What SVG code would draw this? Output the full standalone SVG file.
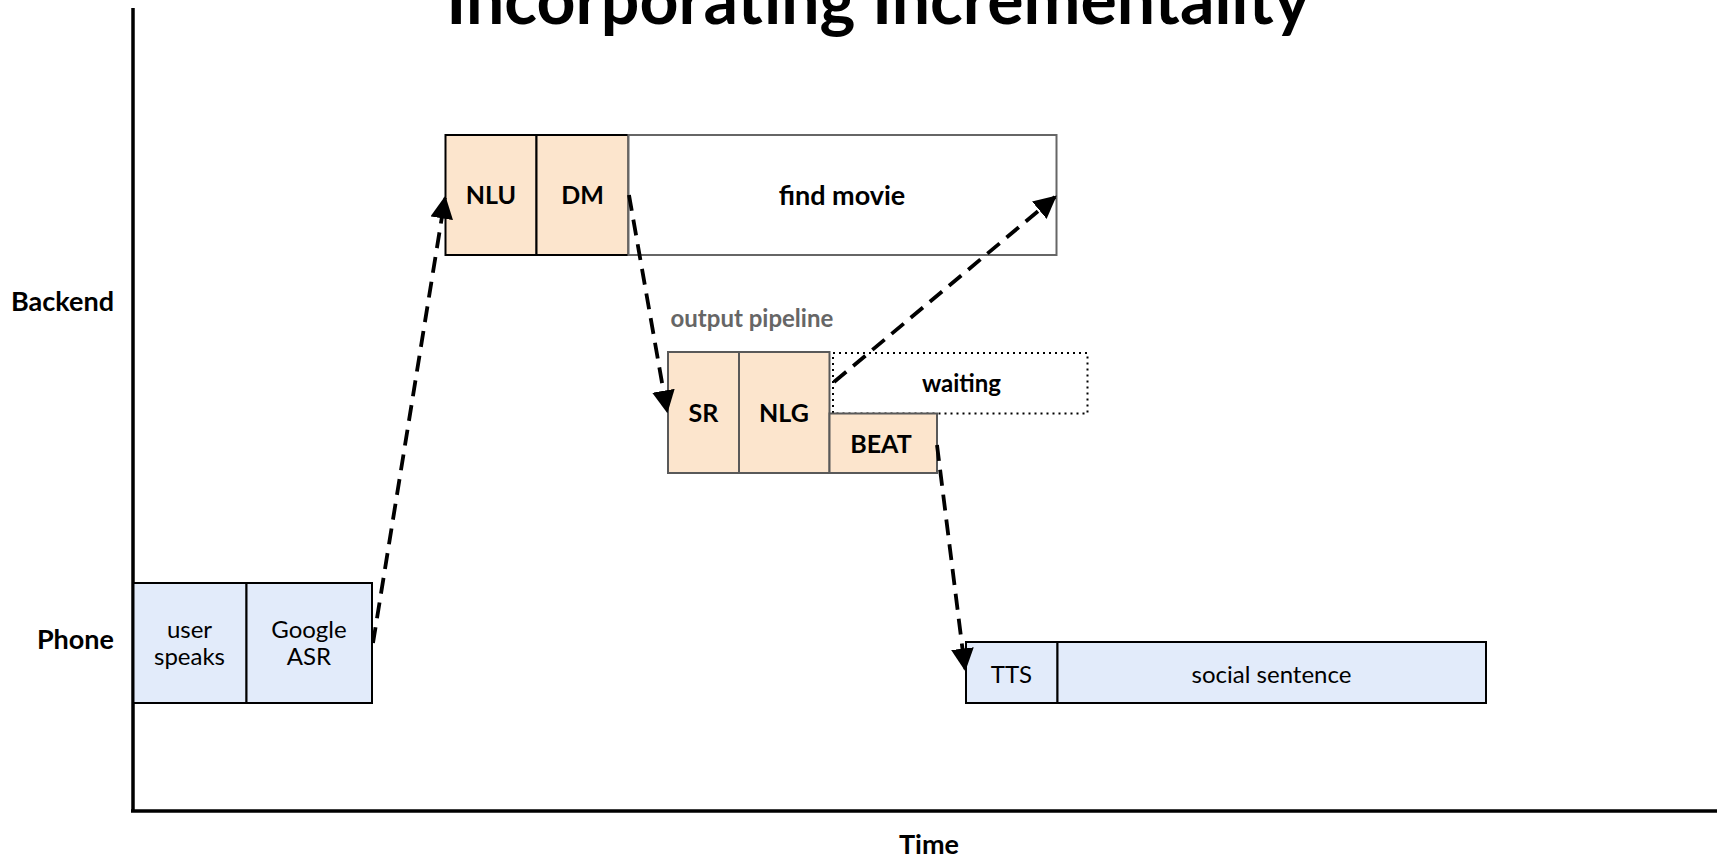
<svg xmlns="http://www.w3.org/2000/svg" width="1717" height="859" viewBox="0 0 1717 859">
<style>
text{font-family:Lato,"Liberation Sans",sans-serif;fill:#000}
.b{font-weight:bold;font-size:25px;text-anchor:middle}
.r{font-size:24px;text-anchor:middle}
.side{font-weight:bold;font-size:27px;text-anchor:end}
.or{fill:#fce5cd;stroke:#000;stroke-width:2}
.or2{fill:#fce5cd;stroke:#595959;stroke-width:2}
.bl{fill:#e2ebfa;stroke:#000;stroke-width:2}
.con{fill:none;stroke:#000;stroke-width:3.8;stroke-dasharray:16 9}
</style>
<defs>
<marker id="ah" viewBox="0 0 10 10" refX="9" refY="5" markerWidth="6" markerHeight="6" orient="auto" markerUnits="strokeWidth">
<path d="M0,0 L10,5 L0,10 z" fill="#000"/>
</marker>
</defs>
<rect width="1717" height="859" fill="#fff"/>
<text x="878" y="24" style="font-weight:bold;font-size:68px;text-anchor:middle">Incorporating Incrementality</text>
<g id="axes">
<line x1="133" y1="8" x2="133" y2="811" stroke="#000" stroke-width="3.5"/>
<line x1="131" y1="811" x2="1717" y2="811" stroke="#000" stroke-width="3.5"/>
<text class="side" x="114" y="311">Backend</text>
<text class="side" x="114" y="649">Phone</text>
<text x="929" y="854" style="font-weight:bold;font-size:27px;text-anchor:middle">Time</text>
</g>
<g id="user-speaks">
<rect class="bl" x="133.5" y="583" width="113" height="120"/>
<text class="r" x="189.5" y="638">user</text>
<text class="r" x="189.5" y="665">speaks</text>
</g>
<g id="google-asr">
<rect class="bl" x="246.5" y="583" width="125.5" height="120"/>
<text class="r" x="309" y="638">Google</text>
<text class="r" x="309" y="665">ASR</text>
</g>
<g id="nlu">
<rect class="or" x="445.5" y="135" width="91" height="120"/>
<text class="b" x="491" y="204">NLU</text>
</g>
<g id="dm">
<rect class="or" x="536.5" y="135" width="92" height="120"/>
<text class="b" x="582.5" y="204">DM</text>
</g>
<g id="find-movie">
<rect x="628.5" y="135" width="428" height="120" fill="#fff" stroke="#666" stroke-width="2"/>
<text x="842" y="205" style="font-weight:bold;font-size:27px;text-anchor:middle">find movie</text>
</g>
<g id="output-pipeline-label">
<text x="670.5" y="327" style="font-weight:bold;font-size:24px;fill:#666">output pipeline</text>
</g>
<g id="sr">
<rect class="or2" x="668" y="352" width="71" height="121"/>
<text class="b" x="703.5" y="422">SR</text>
</g>
<g id="nlg">
<rect class="or2" x="739" y="352" width="90.5" height="121"/>
<text class="b" x="784" y="422">NLG</text>
</g>
<g id="waiting">
<rect x="833" y="353" width="254.5" height="60.5" fill="none" stroke="#000" stroke-width="2" stroke-dasharray="2 4"/>
<text x="961.5" y="392" style="font-weight:bold;font-size:24px;text-anchor:middle">waiting</text>
</g>
<g id="beat">
<rect class="or2" x="829.5" y="413.5" width="107.5" height="59.5"/>
<text class="b" x="881" y="453">BEAT</text>
</g>
<g id="tts">
<rect class="bl" x="966" y="642" width="91.5" height="61"/>
<text class="r" x="1011.5" y="683">TTS</text>
</g>
<g id="social-sentence">
<rect class="bl" x="1057.5" y="642" width="428.5" height="61"/>
<text class="r" x="1271.5" y="683">social sentence</text>
</g>
<g id="connectors">
<line class="con" x1="373" y1="643" x2="445" y2="198" marker-end="url(#ah)"/>
<line class="con" x1="629" y1="195" x2="667" y2="411" marker-end="url(#ah)"/>
<line class="con" x1="834" y1="382" x2="1055" y2="197" marker-end="url(#ah)"/>
<line class="con" x1="937" y1="445" x2="965" y2="669" marker-end="url(#ah)"/>
</g>
</svg>
